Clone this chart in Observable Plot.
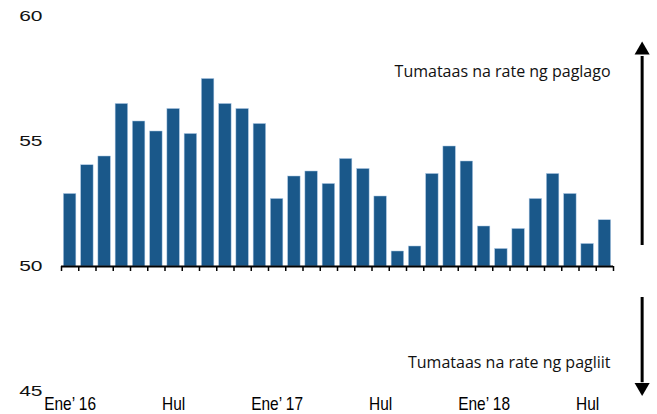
<!DOCTYPE html>
<html>
<head>
<meta charset="utf-8">
<script src="https://cdn.jsdelivr.net/npm/d3@7"></script>
<script src="https://cdn.jsdelivr.net/npm/@observablehq/plot@0.6"></script>
<style>
  html, body { margin: 0; padding: 0; background: #fff; }
  #chart { width: 657px; height: 414px; overflow: hidden; }
</style>
</head>
<body>
<div id="chart"></div>
<script>
// Monthly index, Jan 2016 – Aug 2018 (50 = no change)
const months = [
  "2016-01","2016-02","2016-03","2016-04","2016-05","2016-06","2016-07","2016-08","2016-09","2016-10","2016-11","2016-12",
  "2017-01","2017-02","2017-03","2017-04","2017-05","2017-06","2017-07","2017-08","2017-09","2017-10","2017-11","2017-12",
  "2018-01","2018-02","2018-03","2018-04","2018-05","2018-06","2018-07","2018-08"
];
const values = [
  52.9, 54.05, 54.4, 56.5, 55.8, 55.4, 56.3, 55.3, 57.5, 56.5, 56.3, 55.7,
  52.7, 53.6, 53.8, 53.3, 54.3, 53.9, 52.8, 50.6, 50.8, 53.7, 54.8, 54.2,
  51.6, 50.7, 51.5, 52.7, 53.7, 52.9, 50.9, 51.85
];
const xTickMonths = ["2016-01","2016-07","2017-01","2017-07","2018-01","2018-07"];
const xTickLabels = ["Ene’ 16","Hul","Ene’ 17","Hul","Ene’ 18","Hul"];
const yTicks = [45, 50, 55, 60];
const baseline = 50;
const upLabel = "Tumataas na rate ng paglago";
const downLabel = "Tumataas na rate ng pagliit";

const data = months.map((m, i) => ({month: m, i, v: values[i]}));
const boundaries = d3.range(months.length + 1);
const tickPos = xTickMonths.map(m => months.indexOf(m) + 0.5);
const n = months.length;

// annotation positions (data units)
const arrowX = n + 1.66;
const annotations = [
  {x: n - 0.17, y: 57.8, text: upLabel},
  {x: n - 0.17, y: 46.15, text: downLabel}
];

const barColor = "#1a588a";

const plot = Plot.plot({
  width: 657,
  height: 414,
  marginTop: 16,
  marginBottom: 23,
  marginLeft: 61,
  marginRight: 44,
  style: {background: "#fff", overflow: "visible"},
  x: {type: "linear", domain: [0, n]},
  y: {domain: [45, 60]},
  marks: [
    Plot.rect(data, {
      x1: "i", x2: d => d.i + 1, y1: baseline, y2: "v",
      insetLeft: 2.4, insetRight: 2.4,
      fill: barColor, stroke: "#a9c6e4", strokeWidth: 0.5
    }),
    Plot.ruleY([baseline], {x1: 0, x2: n, stroke: "#000", strokeWidth: 1.8}),
    Plot.ruleX(boundaries, {x: d => d, y1: baseline, y2: baseline, insetBottom: -5, stroke: "#000", strokeWidth: 1.5}),
    Plot.axisX({
      ticks: tickPos,
      tickFormat: (d, k) => xTickLabels[k],
      tickSize: 0,
      tickPadding: 6,
      fontSize: 18,
      fontFamily: "Liberation Sans",
      fill: "#000",
      label: null
    }),
    Plot.axisY({
      ticks: yTicks,
      tickSize: 0,
      tickPadding: 19,
      fontSize: 14,
      fontFamily: "Liberation Sans",
      fill: "#111",
      label: null
    }),
    Plot.text(annotations, {
      x: "x", y: "y", text: "text", textAnchor: "end",
      fontSize: 16, fontFamily: "Open Sans", fill: "#111"
    }),
    // up arrow
    Plot.ruleX([arrowX], {y1: 50.84, y2: 58.4, stroke: "#000", strokeWidth: 3}),
    Plot.dot([{x: arrowX, y: 58.65}], {x: "x", y: "y", symbol: "triangle", r: 5.6, fill: "#000", stroke: "none"}),
    // down arrow
    Plot.ruleX([arrowX], {y1: 48.76, y2: 45.35, stroke: "#000", strokeWidth: 3}),
    Plot.dot([{x: arrowX, y: 45.17}], {x: "x", y: "y", symbol: "triangle", r: 5.6, rotate: 180, fill: "#000", stroke: "none"})
  ]
});

document.getElementById("chart").appendChild(plot);

// stretch the y tick labels horizontally like the reference's wide digits
d3.select(plot).selectAll('g[aria-label="y-axis tick label"] text').each(function() {
  const t = d3.select(this);
  t.attr("transform", (t.attr("transform") || "") + " scale(1.5,1)");
});
// condense the x tick labels like a narrow face
d3.select(plot).selectAll('g[aria-label="x-axis tick label"] text').each(function() {
  const t = d3.select(this);
  t.attr("transform", (t.attr("transform") || "") + " scale(0.86,1)");
});
</script>
</body>
</html>
